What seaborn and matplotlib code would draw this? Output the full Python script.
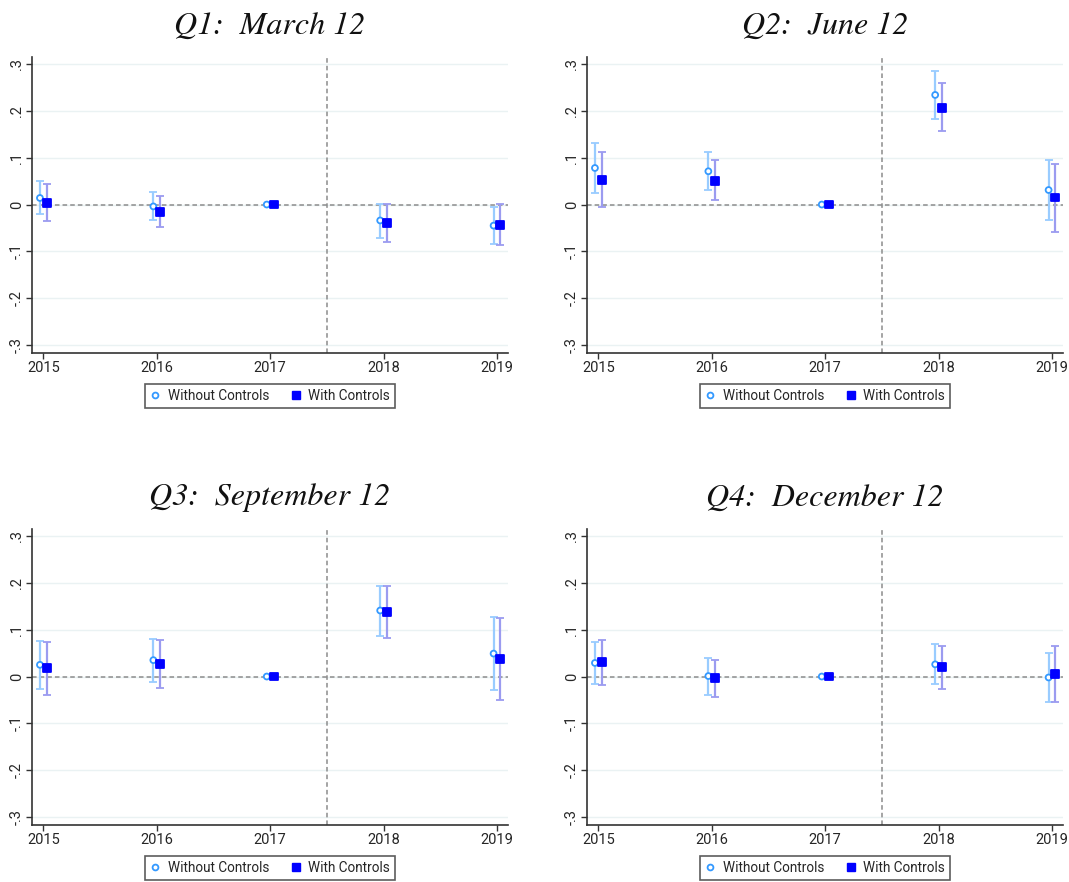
import matplotlib
matplotlib.use("Agg")
import matplotlib.pyplot as plt
import seaborn as sns
import numpy as np
import pandas as pd

years = [2015, 2016, 2017, 2018, 2019]
titles = ["Q1: March 12", "Q2: June 12", "Q3: September 12", "Q4: December 12"]

# Without controls: estimate, lower CI, upper CI
q1_wo = [0.014, -0.004, 0.0, -0.034, -0.045]
q1_wo_lo = [-0.021, -0.033, 0.0, -0.071, -0.084]
q1_wo_hi = [0.050, 0.026, 0.0, 0.001, -0.006]
q1_w = [0.004, -0.016, 0.0, -0.039, -0.044]
q1_w_lo = [-0.036, -0.049, 0.0, -0.079, -0.087]
q1_w_hi = [0.044, 0.019, 0.0, 0.001, 0.001]

q2_wo = [0.078, 0.071, 0.0, 0.234, 0.031]
q2_wo_lo = [0.024, 0.031, 0.0, 0.183, -0.034]
q2_wo_hi = [0.131, 0.112, 0.0, 0.286, 0.096]
q2_w = [0.053, 0.051, 0.0, 0.207, 0.015]
q2_w_lo = [-0.006, 0.009, 0.0, 0.156, -0.059]
q2_w_hi = [0.112, 0.095, 0.0, 0.260, 0.086]

q3_wo = [0.025, 0.035, 0.0, 0.141, 0.049]
q3_wo_lo = [-0.027, -0.011, 0.0, 0.087, -0.029]
q3_wo_hi = [0.076, 0.081, 0.0, 0.194, 0.127]
q3_w = [0.018, 0.026, 0.0, 0.138, 0.037]
q3_w_lo = [-0.040, -0.025, 0.0, 0.083, -0.050]
q3_w_hi = [0.074, 0.079, 0.0, 0.194, 0.126]

q4_wo = [0.029, 0.001, 0.0, 0.026, -0.002]
q4_wo_lo = [-0.015, -0.039, 0.0, -0.016, -0.055]
q4_wo_hi = [0.073, 0.039, 0.0, 0.069, 0.051]
q4_w = [0.031, -0.004, 0.0, 0.020, 0.005]
q4_w_lo = [-0.019, -0.043, 0.0, -0.026, -0.054]
q4_w_hi = [0.079, 0.036, 0.0, 0.066, 0.065]

series_labels = ["Without Controls", "With Controls"]
ytick_vals = [-0.3, -0.2, -0.1, 0.0, 0.1, 0.2, 0.3]
ytick_labels = ["-.3", "-.2", "-.1", "0", ".1", ".2", ".3"]

panels = [
    (q1_wo, q1_wo_lo, q1_wo_hi, q1_w, q1_w_lo, q1_w_hi),
    (q2_wo, q2_wo_lo, q2_wo_hi, q2_w, q2_w_lo, q2_w_hi),
    (q3_wo, q3_wo_lo, q3_wo_hi, q3_w, q3_w_lo, q3_w_hi),
    (q4_wo, q4_wo_lo, q4_wo_hi, q4_w, q4_w_lo, q4_w_hi),
]

sns.set_theme(style="white")
plt.rcParams["font.family"] = ["Roboto", "DejaVu Sans"]

fig = plt.figure(figsize=(10.69, 8.82), dpi=100)
W, H = 1069, 882
positions = [(32, 57), (587, 57), (32, 529), (587, 529)]
aw, ah = 476, 296

c_wo_ci = "#99ccff"
c_wo_mk = "#3399ff"
c_w_ci = "#9b9bf0"
c_w_mk = "#0000ff"
off = 0.03

for i, (pos, title, data) in enumerate(zip(positions, titles, panels)):
    x0, y0 = pos
    ax = fig.add_axes([x0 / W, 1 - (y0 + ah) / H, aw / W, ah / H])
    wo, wo_lo, wo_hi, w, w_lo, w_hi = data
    df = pd.DataFrame({
        "year": years * 2,
        "est": list(wo) + list(w),
        "lo": list(wo_lo) + list(w_lo),
        "hi": list(wo_hi) + list(w_hi),
        "series": [series_labels[0]] * 5 + [series_labels[1]] * 5,
    })
    df["xpos"] = df["year"] + np.where(df["series"] == series_labels[0], -off, off)

    for ytk in ytick_vals:
        ax.axhline(ytk, color="#eaf2f3", lw=1.0, zorder=0)
    ax.axhline(0, color="#8c8c8c", lw=1.1, ls=(0, (3, 2)), zorder=1)
    ax.axvline(2017.5, color="#8c8c8c", lw=1.1, ls=(0, (3, 2)), zorder=1)

    for lab, cci in zip(series_labels, [c_wo_ci, c_w_ci]):
        sub = df[df["series"] == lab]
        ax.errorbar(sub["xpos"], sub["est"],
                    yerr=[sub["est"] - sub["lo"], sub["hi"] - sub["est"]],
                    fmt="none", ecolor=cci, elinewidth=1.6, capsize=2.6,
                    capthick=1.3, zorder=2)

    sns.scatterplot(data=df, x="xpos", y="est", hue="series", style="series",
                    hue_order=series_labels, style_order=series_labels,
                    markers={series_labels[0]: "o", series_labels[1]: "s"},
                    palette={series_labels[0]: c_wo_mk, series_labels[1]: c_w_mk},
                    s=40, ax=ax, zorder=3, legend=False)
    coll = ax.collections[-1]
    n = len(df)
    face = []
    edge = []
    for k in range(n):
        if df["series"].iloc[k] == series_labels[0]:
            face.append((1, 1, 1, 1))
            edge.append(matplotlib.colors.to_rgba(c_wo_mk))
        else:
            face.append(matplotlib.colors.to_rgba(c_w_mk))
            edge.append(matplotlib.colors.to_rgba(c_w_mk))
    coll.set_facecolors(face)
    coll.set_edgecolors(edge)
    coll.set_linewidths(1.3)
    sizes = [18 if df["series"].iloc[k] == series_labels[0] else 32 for k in range(n)]
    coll.set_sizes(sizes)

    ax.set_xlim(2014.9, 2019.097)
    ax.set_ylim(-0.317, 0.315)
    ax.set_xticks(years)
    ax.set_xticklabels([str(y) for y in years], fontsize=10.5)
    ax.set_yticks(ytick_vals)
    ax.set_yticklabels(ytick_labels, fontsize=10.5, rotation=90, va="center")
    ax.set_xlabel("")
    ax.set_ylabel("")
    for side in ["top", "right"]:
        ax.spines[side].set_visible(False)
    for side in ["left", "bottom"]:
        ax.spines[side].set_color("#333333")
        ax.spines[side].set_linewidth(1.2)
    ax.tick_params(axis="both", which="both", direction="out", length=4,
                   width=1.0, color="#333333", left=True, bottom=True, pad=2)

    qpart, rest = title.split(": ")
    ax.set_title(qpart + ":  " + rest, fontsize=23, pad=17,
                 family=["STIXGeneral", "DejaVu Serif"], style="italic",
                 color="#111111")

    handles = [
        plt.Line2D([], [], ls="none", marker="o", markersize=4.2,
                   markerfacecolor="white", markeredgecolor=c_wo_mk, markeredgewidth=1.3),
        plt.Line2D([], [], ls="none", marker="s", markersize=6.0,
                   markerfacecolor=c_w_mk, markeredgecolor=c_w_mk),
    ]
    leg = ax.legend(handles, series_labels, loc="upper center",
                    bbox_to_anchor=(0.5, -0.105), ncol=2, frameon=True,
                    fancybox=False, fontsize=9.8, handlelength=0.8,
                    handletextpad=0.5, columnspacing=1.6, borderpad=0.35,
                    borderaxespad=0.0)
    leg.get_frame().set_edgecolor("#333333")
    leg.get_frame().set_linewidth(1.2)

fig.savefig("out.png", dpi=100)
